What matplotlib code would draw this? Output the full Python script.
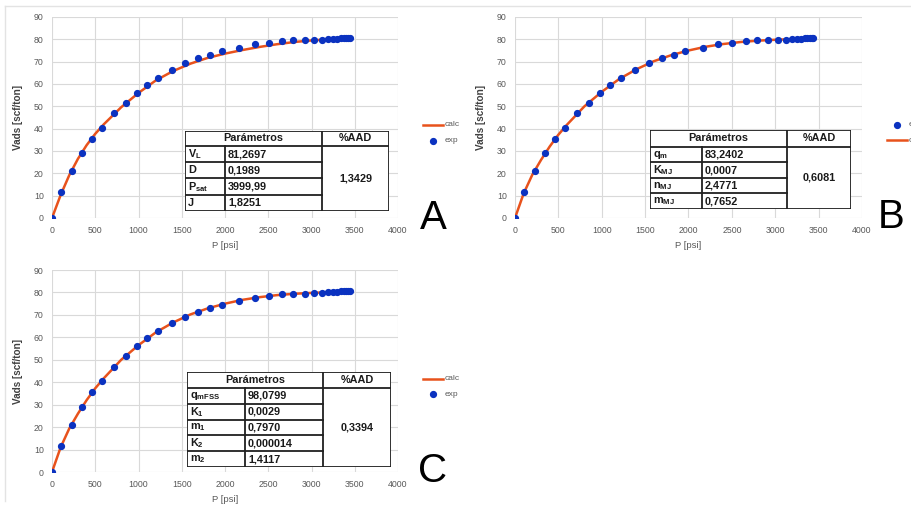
import numpy as np
import matplotlib.pyplot as plt

plt.rcParams['font.family'] = ['Liberation Sans', 'DejaVu Sans']

# experimental points (same in the three panels)
p_exp = [0, 105, 230, 350, 465, 580, 715, 850, 980, 1100, 1220, 1385, 1540, 1690,
         1830, 1965, 2165, 2345, 2505, 2660, 2790, 2920, 3030, 3120, 3190, 3250,
         3300, 3340, 3370, 3395, 3420, 3440]
v_exp = [0, 11.5, 21.0, 29.0, 35.5, 40.5, 47.0, 51.5, 56.0, 59.5, 62.7, 66.2, 69.2, 71.5,
         73.2, 74.6, 76.3, 77.7, 78.3, 79.4, 79.5, 79.5, 79.6, 79.9, 80.1, 80.0,
         80.0, 80.5, 80.6, 80.5, 80.6, 80.5]

# calculated curves
p_calc = [0, 100, 200, 300, 400, 500, 600, 800, 1000, 1200, 1400, 1600, 1800, 2000,
          2200, 2400, 2600, 2800, 3000, 3200, 3440]
v_calc_a = [0, 10.3, 19.2, 26.5, 32.6, 37.7, 42.0, 49.6, 56.0, 61.6, 65.8, 69.1, 71.7, 73.6,
            75.2, 76.6, 77.8, 78.8, 79.5, 80.0, 80.4]
v_calc_b = [0, 11.0, 19.4, 26.0, 32.0, 37.3, 41.8, 50.0, 56.5, 62.2, 66.6, 70.2, 72.9, 75.0,
            76.7, 77.9, 78.8, 79.4, 79.8, 80.1, 80.4]
v_calc_c = [0, 11.0, 19.4, 26.0, 32.0, 37.3, 41.8, 50.0, 56.5, 62.2, 66.6, 70.2, 72.9, 75.0,
            76.7, 77.9, 78.8, 79.4, 79.8, 80.1, 80.4]

# parameter tables
names_a = [r'V$_\mathregular{L}$', 'D', r'P$_\mathregular{sat}$', 'J']
vals_a = ['81,2697', '0,1989', '3999,99', '1,8251']
aad_a = '1,3429'
names_b = [r'q$_\mathregular{m}$', r'K$_\mathregular{MJ}$', r'n$_\mathregular{MJ}$', r'm$_\mathregular{MJ}$']
vals_b = ['83,2402', '0,0007', '2,4771', '0,7652']
aad_b = '0,6081'
names_c = [r'q$_\mathregular{mFSS}$', r'K$_\mathregular{1}$', r'm$_\mathregular{1}$',
           r'K$_\mathregular{2}$', r'm$_\mathregular{2}$']
vals_c = ['98,0799', '0,0029', '0,7970', '0,000014', '1,4117']
aad_c = '0,3394'

W, H = 912, 505
fig = plt.figure(figsize=(W / 100, H / 100), dpi=100)

RED = '#e8521c'
BLUE = '#0b32c0'
GRAY = '#595959'


def px_axes(x0, y0, x1, y1):
    # axes from pixel box (top-left origin)
    return fig.add_axes([x0 / W, 1 - y1 / H, (x1 - x0) / W, (y1 - y0) / H])


def draw_chart(box, calc_vals):
    ax = px_axes(*box)
    ax.plot(p_calc, calc_vals, color=RED, lw=1.8, zorder=3)
    ax.plot(p_exp, v_exp, 'o', color=BLUE, ms=4.2, zorder=4)
    ax.set_xlim(0, 4000)
    ax.set_ylim(0, 90)
    ax.set_xticks(np.arange(0, 4001, 500))
    ax.set_yticks(np.arange(0, 91, 10))
    ax.grid(True, color='#d9d9d9', lw=0.8)
    ax.set_axisbelow(True)
    for s in ax.spines.values():
        s.set_visible(False)
    ax.tick_params(length=0, labelsize=6.3, labelcolor=GRAY, pad=6)
    ax.set_xlabel('P [psi]', fontsize=6.8, color=GRAY, labelpad=4)
    ax.set_ylabel('Vads [scf/ton]', fontsize=7.2, fontweight='bold', color='#404040', labelpad=8)
    return ax


def draw_table(x0, y0, x1, y1, c1, c2, hdr, names, vals, aad):
    t = px_axes(x0, y0, x1, y1)
    w, h = x1 - x0, y1 - y0
    t.set_xlim(0, w)
    t.set_ylim(h, 0)
    t.axis('off')
    t.add_patch(plt.Rectangle((0, 0), w, h, fill=True, facecolor='white',
                              edgecolor='#202020', lw=1.3))
    a, b, hh = c1 - x0, c2 - x0, hdr - y0
    t.plot([b, b], [0, h], color='#202020', lw=1.3)
    t.plot([0, w], [hh, hh], color='#202020', lw=1.3)
    t.plot([a, a], [hh, h], color='#202020', lw=1.3)
    rh = (h - hh) / len(names)
    for i in range(1, len(names)):
        t.plot([0, b], [hh + i * rh] * 2, color='#202020', lw=1.3)
    kw = dict(fontsize=7.8, fontweight='bold', color='#1a1a1a', va='center')
    t.text(b / 2, hh / 2, 'Parámetros', ha='center', **kw)
    t.text((b + w) / 2, hh / 2, '%AAD', ha='center', **kw)
    t.text((b + w) / 2, (hh + h) / 2, aad, ha='center', **kw)
    for i, (n, v) in enumerate(zip(names, vals)):
        yc = hh + (i + 0.5) * rh
        t.text(3, yc, n, ha='left', **kw)
        t.text(a + 3, yc, v, ha='left', **kw)


def draw_legend(xl, yl, xd, yd):
    lax = px_axes(0, 0, W, H)
    lax.set_xlim(0, W)
    lax.set_ylim(H, 0)
    lax.axis('off')
    lax.plot([xl, xl + 20], [yl, yl], color=RED, lw=1.8)
    lax.plot([xd], [yd], 'o', color=BLUE, ms=4.2)
    lax.text(xl + 22, yl, 'calc', fontsize=6, color=GRAY, va='center')
    lax.text(xl + 22, yd, 'exp', fontsize=6, color=GRAY, va='center')


# panel frames
frame = px_axes(0, 0, W, H)
frame.set_xlim(0, W)
frame.set_ylim(H, 0)
frame.axis('off')
frame.plot([5, W], [6, 6], color='#e3e3e3', lw=1)
frame.plot([5, 5], [6, H - 4], color='#e3e3e3', lw=1)

draw_chart((52, 17, 398, 218), v_calc_a)
draw_chart((515, 17, 862, 218), v_calc_b)
draw_chart((52, 270, 398, 472), v_calc_c)

draw_table(185, 131, 389, 211, 225, 322, 146, names_a, vals_a, aad_a)
draw_table(650, 130, 851, 209, 702, 787, 147, names_b, vals_b, aad_b)
draw_table(187, 372, 391, 467, 245, 323, 388, names_c, vals_c, aad_c)

draw_legend(423, 125, 433, 141)
draw_legend(887, 140, 897, 125)
draw_legend(423, 379, 433, 394)

fig.text(433 / W, 1 - 218 / H, 'A', fontsize=29, ha='center', va='center')
fig.text(891 / W, 1 - 217 / H, 'B', fontsize=29, ha='center', va='center')
fig.text(433 / W, 1 - 471 / H, 'C', fontsize=29, ha='center', va='center')

fig.savefig('out.png', dpi=100)
